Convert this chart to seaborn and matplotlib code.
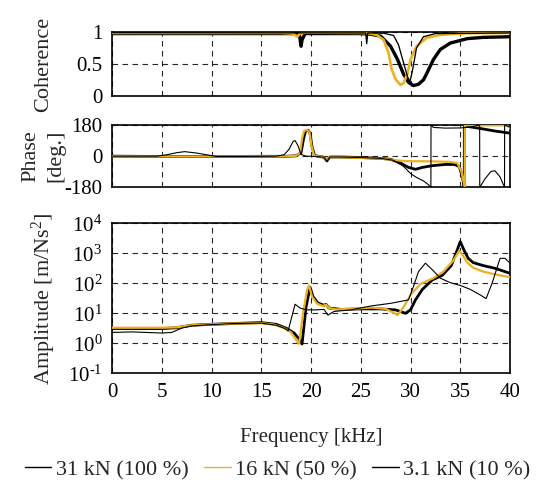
import numpy as np
import pandas as pd
import matplotlib
matplotlib.use("Agg")
import matplotlib.pyplot as plt
from matplotlib.lines import Line2D
import seaborn as sns

# ---------------- data ----------------
labels = ["31 kN (100 %)", "16 kN (50 %)", "3.1 kN (10 %)"]

# Coherence
coh_f_31 = [0, 18.5, 18.85, 19.0, 19.1, 19.4, 25, 26, 27, 28, 28.7, 29.3, 29.8, 30.3, 30.8,
            31.3, 31.6, 32.3, 33, 34, 35.7, 37.3, 40]
coh_v_31 = [0.98, 0.98, 0.95, 0.78, 0.88, 0.98, 0.98, 0.97, 0.94, 0.78, 0.57, 0.34, 0.21, 0.16,
            0.18, 0.25, 0.34, 0.57, 0.73, 0.83, 0.90, 0.92, 0.93]
coh_f_16 = [0, 17, 18.2, 18.6, 18.9, 19.5, 25, 26, 26.6, 27.3, 27.8, 28.1, 28.5, 29.0, 29.3,
            29.7, 30.0, 30.6, 31.6, 33, 35.6, 40]
coh_v_16 = [0.99, 0.99, 0.98, 0.93, 0.98, 0.995, 0.99, 0.98, 0.96, 0.88, 0.67, 0.42, 0.26, 0.17,
            0.20, 0.35, 0.57, 0.78, 0.91, 0.96, 0.985, 0.99]
coh_f_3 = [0, 25.5, 25.6, 25.7, 27.3, 28.3, 28.8, 29.3, 29.7, 29.95, 30.2, 30.6, 31.3, 32.5, 40]
coh_v_3 = [0.995, 0.99, 0.82, 0.99, 0.985, 0.95, 0.80, 0.52, 0.30, 0.22, 0.40, 0.75, 0.93, 0.98, 0.99]

# Phase [deg]
ph_f_31 = [0, 5, 10, 15, 17.5, 18.5, 19.0, 19.25, 19.45, 19.7, 19.9, 20.1, 20.35, 20.8, 21.3,
           21.6, 21.9, 23, 25, 27, 28, 29, 29.8, 30.5, 31.2, 32.2, 33.5, 34.4, 34.9, 35.2, 35.4,
           35.41, 35.5, 37, 38.5, 40]
ph_v_31 = [0, -2, -2, -1, -1, 2, 20, 100, 145, 150, 135, 55, 5, -2, -6,
           -28, -5, -5, -8, -13, -18, -40, -65, -76, -65, -55, -48, -48, -60, -115, -180,
           180, 174, 160, 145, 133]
ph_f_16 = [0, 5, 10, 15, 17.5, 18.5, 18.9, 19.1, 19.3, 19.6, 19.85, 20.05, 20.3, 20.8, 21.3,
           21.6, 21.9, 23, 25, 27, 28.3, 29.3, 30, 32, 34, 34.7, 35.1, 35.45, 35.46, 35.7, 39.7, 40]
ph_v_16 = [0, -2, -2, -1, -1, 2, 20, 100, 145, 152, 140, 60, 5, -2, -6,
           -25, -5, -6, -10, -14, -22, -28, -29, -30, -33, -40, -85, -180, 180, 178, 178, 162]
ph_f_3 = [0, 4.5, 5.5, 6.5, 7.3, 8.5, 9.5, 10.5, 13, 15, 16.5, 17.3, 17.8, 18.2, 18.4, 18.7,
          19.0, 19.5, 20.5, 21.3, 21.6, 21.9, 23, 25, 27, 28.3, 29.3, 30, 30.6, 31.3, 31.8, 32.05,
          32.06, 32.3, 33.5, 35, 36, 36.95, 36.96, 37.5, 38.1, 38.5, 39.0, 39.45, 39.46, 40]
ph_v_3 = [0, 0, 8, 20, 26, 18, 8, -2, -2, -1, 0, 8, 40, 85, 90, 60,
          10, 0, -2, -6, -30, -5, -5, -8, -13, -24, -59, -100, -123, -143, -165, -180,
          180, 166, 162, 163, 168, 180, -180, -130, -88, -85, -120, -180, 180, 168]

# Amplitude [m/Ns^2]
am_f_31 = [0, 5, 6.5, 8, 10, 12.5, 15, 16.5, 17.5, 18.3, 18.8, 19.1, 19.5, 19.9, 20.2, 20.7,
           21.3, 21.5, 21.8, 23, 25, 27, 28.5, 29.5, 30, 30.5, 31.2, 32.2, 33.2, 34.1, 34.6, 35.0,
           35.4, 35.8, 36.3, 37.3, 38.5, 40]
am_v_31 = [3.1, 3.1, 3.3, 4.0, 4.3, 4.6, 4.9, 4.3, 3.2, 2.2, 1.4, 0.95, 16, 74, 36, 22,
           18.5, 20, 15, 13.5, 14, 14, 13, 10, 13, 28, 63, 130, 185, 390, 1050, 2450,
           1230, 680, 490, 390, 316, 215]
am_f_16 = [0, 5, 6.5, 8, 10, 12.5, 15, 16.3, 17.3, 18, 18.5, 18.8, 19.2, 19.6, 19.8, 20.1, 20.6,
           21.2, 21.5, 21.8, 22.5, 24, 26, 27.5, 28.3, 28.7, 29.3, 30, 31, 32.3, 33.3, 34.3, 34.9,
           35.3, 35.7, 36.3, 37.3, 38.3, 40]
am_v_16 = [3.3, 3.3, 3.4, 4.0, 4.3, 4.6, 4.7, 4.2, 3.2, 2.3, 1.3, 0.95, 10, 60, 85, 36, 21,
           17.5, 19.5, 15, 13.5, 14, 15.5, 14, 10.5, 8.7, 16, 41, 95, 148, 245, 570, 1230,
           810, 490, 330, 245, 205, 158]
am_f_3 = [0, 2, 5, 6, 7, 8, 10, 12.5, 15, 16.5, 17.3, 17.7, 18.4, 18.9, 19.5, 20.5, 21.3, 21.7,
          22.3, 24, 26, 28, 29.8, 30.3, 30.8, 31.5, 32.2, 33, 34, 35, 36, 37, 37.6, 38.2, 39,
          39.5, 40]
am_v_3 = [2.3, 2.4, 2.2, 2.3, 3.2, 3.8, 4.2, 4.6, 4.7, 4.0, 3.2, 2.6, 20, 15, 13, 13, 13.5, 8.7,
          11.5, 13, 17.5, 21.5, 28, 78, 245, 470, 280, 148, 105, 85, 63, 41, 31, 100, 680,
          680, 470]

freq_ticks = [0, 5, 10, 15, 20, 25, 30, 35, 40]

# ---------------- styling ----------------
sns.set_style("white")
plt.rcParams["font.family"] = ["Liberation Serif", "DejaVu Serif"]
plt.rcParams["mathtext.fontset"] = "custom"
plt.rcParams["mathtext.rm"] = "Liberation Serif"
plt.rcParams["mathtext.it"] = "Liberation Serif:italic"
plt.rcParams["axes.unicode_minus"] = False
FS = 15
FSL = 16

colors = ["black", "#EDB120", "black"]
widths = [2.0, 1.6, 0.8]
zorders = [3, 4, 5]

fig = plt.figure(figsize=(5.36, 4.87), dpi=100)
L, W = 112 / 536, 398 / 536
ax_c = fig.add_axes([L, 1 - 95.7 / 487, W, 63.4 / 487])
ax_p = fig.add_axes([L, 1 - 187.3 / 487, W, 62.3 / 487])
ax_a = fig.add_axes([L, 1 - 373.3 / 487, W, 150 / 487])


def draw(ax, fs, vs, lwscale=1.0):
    for i, (f, v) in enumerate(zip(fs, vs)):
        df = pd.DataFrame({"f": f, "v": v})
        sns.lineplot(data=df, x="f", y="v", ax=ax, color=colors[i], lw=widths[i] * lwscale,
                     sort=False, estimator=None, zorder=zorders[i], legend=False)


draw(ax_c, [coh_f_31, coh_f_16, coh_f_3], [coh_v_31, coh_v_16, coh_v_3], 1.2)
draw(ax_p, [ph_f_31, ph_f_16, ph_f_3], [ph_v_31, ph_v_16, ph_v_3])
draw(ax_a, [am_f_31, am_f_16, am_f_3], [am_v_31, am_v_16, am_v_3])

for ax in (ax_c, ax_p, ax_a):
    ax.set_xlim(0, 40)
    ax.set_xticks(freq_ticks)
    ax.grid(True, color="black", linestyle=(0, (5, 4)), lw=0.8, alpha=0.85)
    ax.set_axisbelow(True)
    for s in ax.spines.values():
        s.set_color("black")
        s.set_linewidth(1.2)
    ax.tick_params(direction="in", length=2, labelsize=FS, colors="black", pad=7)
    ax.set_xlabel("")
    ax.set_ylabel("")

ax_c.set_ylim(0, 1)
ax_c.set_yticks([0, 0.5, 1])
ax_c.set_yticklabels(["0", "0.5", "1"])
ax_c.tick_params(labelbottom=False)

ax_p.set_ylim(-180, 180)
ax_p.set_yticks([-180, 0, 180])
ax_p.set_yticklabels(["-180", "0", "180"])
ax_p.tick_params(labelbottom=False)

ax_a.set_yscale("log")
ax_a.set_ylim(1e-1, 1e4)
ax_a.set_yticks([1e-1, 1e0, 1e1, 1e2, 1e3, 1e4])
ax_a.set_yticklabels([r"$10^{\mathrm{‐}1}$", r"$10^{0}$", r"$10^{1}$", r"$10^{2}$",
                      r"$10^{3}$", r"$10^{4}$"])
ax_a.yaxis.set_minor_locator(matplotlib.ticker.NullLocator())
ax_a.set_xticklabels([str(t) for t in freq_ticks])

ax_c.set_ylabel("Coherence", fontsize=FSL)
ax_p.set_ylabel("Phase\n[deg.]", fontsize=FSL, linespacing=1.4)
ax_a.set_ylabel(r"Amplitude [m/Ns$^2$]", fontsize=FSL)
for ax in (ax_c, ax_p, ax_a):
    ax.yaxis.set_label_coords(-0.172, 0.5)
    ax.yaxis.label.set_va("center")
ax_a.set_xlabel("Frequency [kHz]", fontsize=FS)
ax_a.xaxis.set_label_coords(0.5, -0.425)
ax_a.xaxis.label.set_va("center")

handles = [Line2D([], [], color=c, lw=1.0) for c in colors]
fig.legend(handles, labels, loc="center", bbox_to_anchor=(0.518, 0.035), ncol=3,
           frameon=False, fontsize=16, handlelength=1.2, handletextpad=0.2,
           columnspacing=0.7, borderaxespad=0)

fig.savefig("out.png", dpi=100)
